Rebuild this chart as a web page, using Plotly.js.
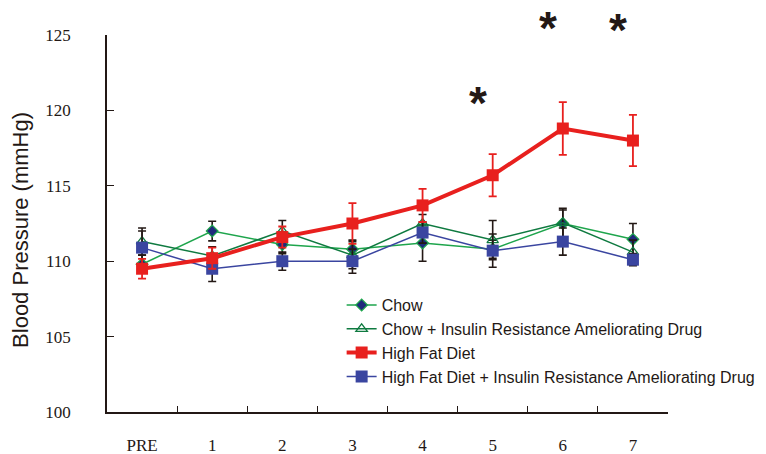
<!DOCTYPE html>
<html><head><meta charset="utf-8">
<script src="https://cdn.plot.ly/plotly-3.0.1.min.js"></script>
<style>body{margin:0;background:#fff}#chart{width:766px;height:454px}</style>
</head><body><div id="chart"></div>
<script>
const categories = ["PRE","1","2","3","4","5","6","7"];
const chow      = [109.8,112.0,111.1,110.8,111.2,110.8,112.5,111.45];
const chowErr   = [0.6,0.65,0.6,0.6,1.2,0.6,0.9,1.05];
const chowDrug    = [111.3,110.35,112.0,110.4,112.5,111.4,112.55,110.6];
const chowDrugErr = [0.9,0.6,0.7,0.9,0.6,1.3,0.95,0.8];
const hfd      = [109.5,110.2,111.6,112.5,113.7,115.7,118.8,118.0];
const hfdErr   = [0.65,0.7,0.7,1.35,1.1,1.4,1.75,1.7];
const hfdDrug    = [110.9,109.5,110.0,110.0,111.9,110.7,111.3,110.1];
const hfdDrugErr = [1.1,0.85,0.6,0.8,0.7,1.1,0.9,0.4];
const starCats = ["5","6","7"];
const starY    = [120.95,125.93,125.82];
const names = ["Chow","Chow + Insulin Resistance Ameliorating Drug","High Fat Diet","High Fat Diet + Insulin Resistance Ameliorating Drug"];
const yTitle = "Blood Pressure (mmHg)";
const yMin = 100, yMax = 125;

const blackErr = (a)=>({type:'data',array:a,visible:true,color:'#231815',thickness:1.6,width:4});
const traces = [
 {x:categories,y:chow,name:names[0],mode:'lines+markers',legendrank:1,
  line:{color:'#1ea54c',width:1.5},
  marker:{symbol:'diamond',size:9,color:'#1f2a7c',line:{color:'#1ea54c',width:1.2}},
  error_y:blackErr(chowErr)},
 {x:categories,y:chowDrug,name:names[1],mode:'lines+markers',legendrank:2,
  line:{color:'#0f7a40',width:1.5},
  marker:{symbol:'triangle-up-open',size:10,color:'#0f7a40',line:{width:1.3}},
  error_y:blackErr(chowDrugErr)},
 {x:categories,y:hfdDrug,name:names[3],mode:'lines+markers',legendrank:4,
  line:{color:'#3a45a0',width:1.5},
  marker:{symbol:'square',size:12,color:'#3a45a0'},
  error_y:blackErr(hfdDrugErr)},
 {x:categories,y:hfd,name:names[2],mode:'lines+markers',legendrank:3,
  line:{color:'#e8201e',width:4},
  marker:{symbol:'square',size:12,color:'#e8201e'},
  error_y:{type:'data',array:hfdErr,visible:true,color:'#e8201e',thickness:1.8,width:4}}
];
const annotations = starCats.map((c,i)=>({x:c,y:(starY[i]-yMin)/(yMax-yMin),xref:'x',yref:'paper',text:'<b>*</b>',showarrow:false,
  xshift:-15,yanchor:'middle',yshift:-7,font:{family:'Liberation Sans, Arial',size:46,color:'#231815'}}));
annotations.push({text:yTitle,xref:'paper',yref:'paper',x:-0.1533,y:0.483,xanchor:'center',yanchor:'middle',
  textangle:-90,showarrow:false,font:{family:'Liberation Sans, Arial',size:22,color:'#231815'}});
const layout = {
 width:766,height:454,margin:{l:107,r:98,t:35,b:42,autoexpand:false},
 paper_bgcolor:'#fff',plot_bgcolor:'#fff',showlegend:true,
 xaxis:{type:'category',range:[-0.5,7.5],showgrid:false,zeroline:false,showline:true,linecolor:'#231815',linewidth:1.5,
   ticks:'inside',ticklen:6,tickwidth:1.2,tickcolor:'#231815',tickson:'boundaries',ticklabelstandoff:17,
   tickfont:{family:'Liberation Serif, Times New Roman',size:17,color:'#231815'}},
 yaxis:{range:[yMin,yMax],tickvals:[100,105,110,115,120,125],showgrid:false,zeroline:false,showline:true,linecolor:'#231815',linewidth:1.5,
   ticks:'inside',ticklen:7,tickwidth:1.2,tickcolor:'#231815',ticklabelstandoff:31,
   tickfont:{family:'Liberation Serif, Times New Roman',size:17,color:'#231815'}},
 legend:{xref:'container',yref:'container',x:0.446,y:0.3654,xanchor:'left',yanchor:'top',bgcolor:'rgba(0,0,0,0)',tracegroupgap:0,
   font:{family:'Liberation Sans, Arial',size:16,color:'#231815'}},
 annotations:annotations
};
Plotly.newPlot('chart',traces,layout,{displayModeBar:false});
</script></body></html>
